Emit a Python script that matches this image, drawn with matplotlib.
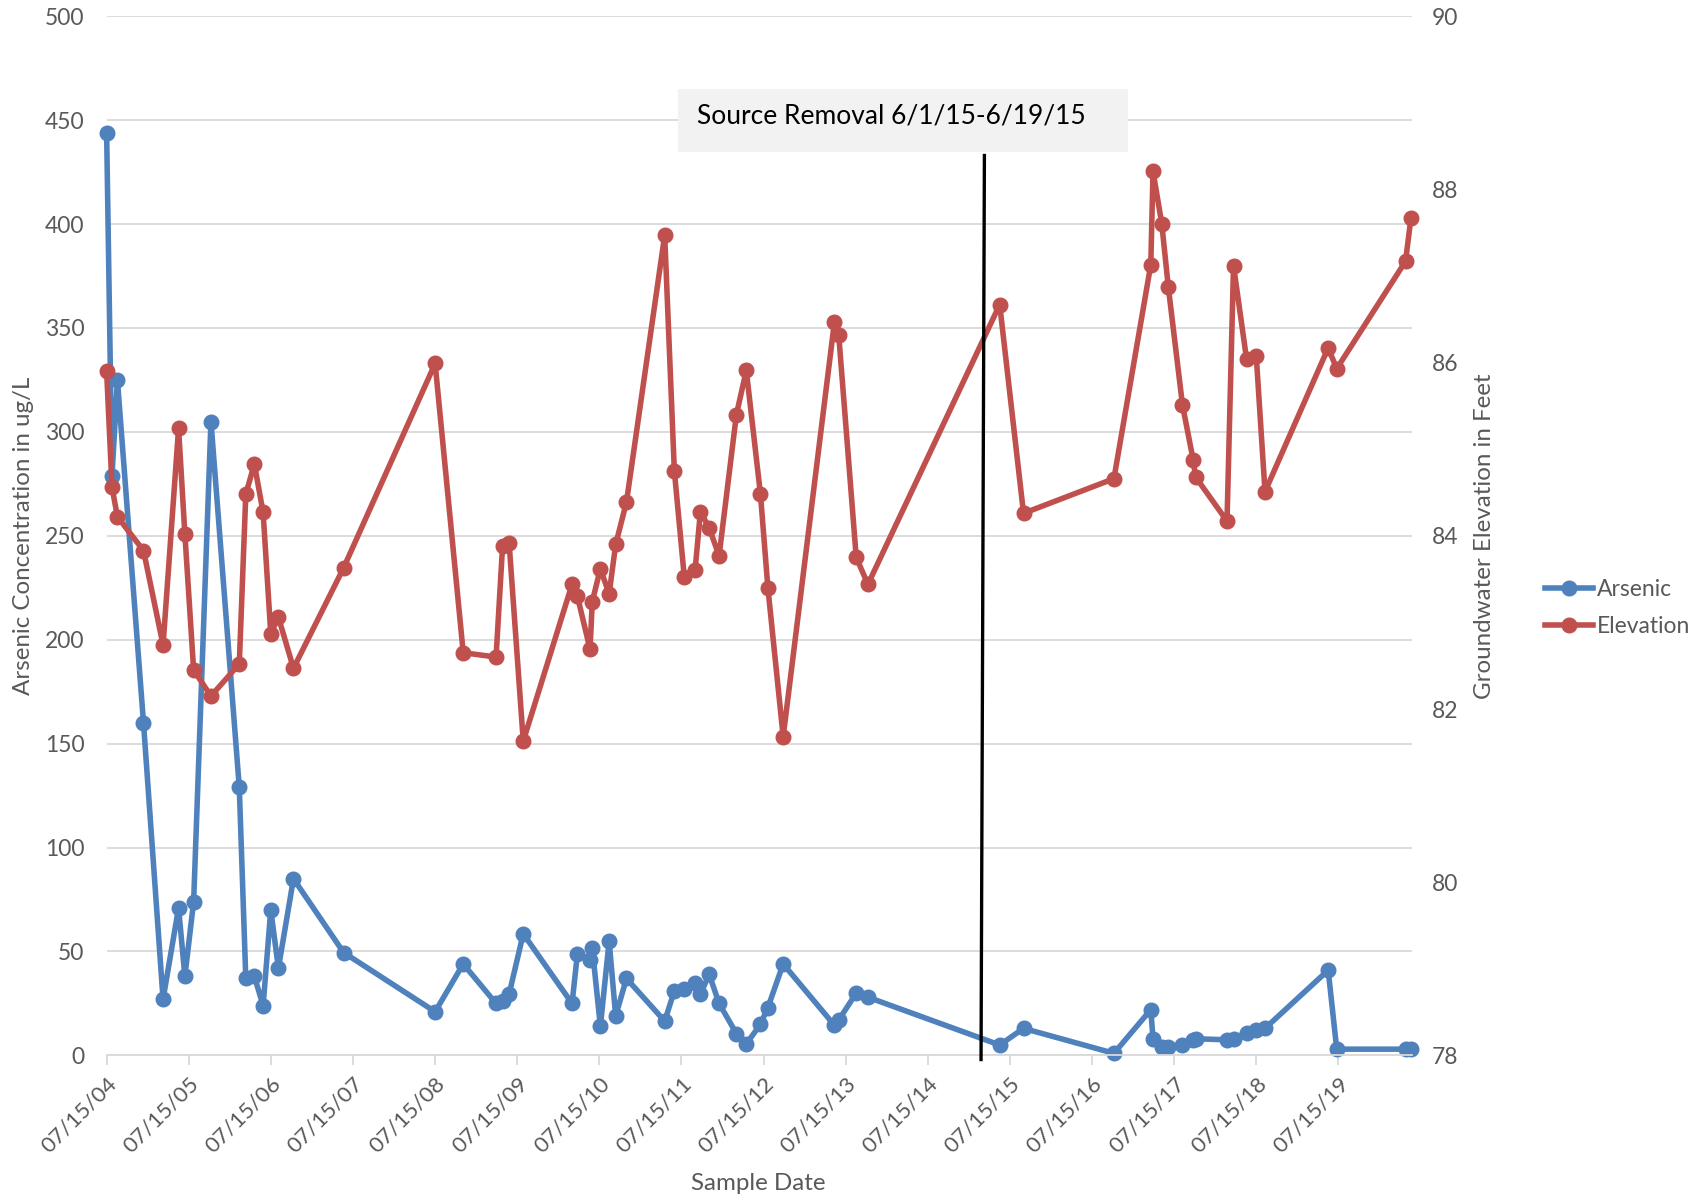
import numpy as np
import pandas as pd
import matplotlib
matplotlib.use('Agg')
import matplotlib.pyplot as plt
import matplotlib.dates as mdates
from matplotlib.patches import Rectangle
from datetime import datetime

plt.rcParams['font.family'] = ['Lato', 'DejaVu Sans']

# sample dates
dates = pd.to_datetime([
    '2004-07-15', '2004-08-08', '2004-09-01', '2004-12-26', '2005-03-23', '2005-05-31',
    '2005-06-28', '2005-08-06', '2005-10-22', '2006-02-25', '2006-03-26', '2006-05-03',
    '2006-06-11', '2006-07-15', '2006-08-18', '2006-10-24', '2007-06-04', '2008-07-15',
    '2008-11-17', '2009-04-12', '2009-05-11', '2009-06-09', '2009-08-11', '2010-03-16',
    '2010-04-09', '2010-06-04', '2010-06-14', '2010-07-20', '2010-08-28', '2010-09-26',
    '2010-11-13', '2011-05-02', '2011-06-14', '2011-07-28', '2011-09-14', '2011-10-08',
    '2011-11-16', '2011-12-30', '2012-03-16', '2012-04-29', '2012-07-01', '2012-08-03',
    '2012-10-10', '2013-05-26', '2013-06-14', '2013-08-31', '2013-10-22', '2015-05-31',
    '2015-09-14', '2016-10-20', '2017-04-02', '2017-04-12', '2017-05-21', '2017-06-19',
    '2017-08-21', '2017-10-08', '2017-10-18', '2018-03-07', '2018-04-05', '2018-06-02',
    '2018-07-15', '2018-08-23', '2019-05-31', '2019-07-08', '2020-05-09', '2020-06-02',
])

# arsenic concentration, ug/L
arsenic = [
    444, 279, 325, 160, 27, 71,
    38, 74, 305, 129, 37, 38,
    24, 70, 42, 85, 49.5, 21,
    44, 25, 26, 29.5, 58.5, 25,
    49, 46, 51.5, 14, 55, 19,
    37, 16.5, 31, 32, 35, 29.5,
    39, 25, 10.5, 5.5, 15, 23,
    44, 14.5, 17, 30, 28, 5,
    13, 1, 22, 8, 4, 4,
    5, 7.5, 8, 7.5, 8, 11,
    12, 13, 41, 3, 3, 3,
]

# groundwater elevation, feet
elevation = [
    85.90, 84.56, 84.22, 83.83, 82.74, 85.24,
    84.02, 82.45, 82.15, 82.52, 84.48, 84.83,
    84.27, 82.87, 83.06, 82.47, 83.63, 85.99,
    82.65, 82.60, 83.88, 83.92, 81.63, 83.44,
    83.30, 82.69, 83.24, 83.62, 83.33, 83.90,
    84.39, 87.47, 84.75, 83.53, 83.60, 84.28,
    84.09, 83.77, 85.40, 85.91, 84.48, 83.40,
    81.68, 86.47, 86.32, 83.75, 83.44, 86.67,
    84.26, 84.66, 87.13, 88.21, 87.60, 86.87,
    85.51, 84.87, 84.68, 84.17, 87.12, 86.04,
    86.08, 84.51, 86.17, 85.93, 87.17, 87.67,
]

tick_dates = [datetime(y, 7, 15) for y in range(2004, 2020)]
# hand-drawn marker line in the original: top end / bottom end
removal_line = pd.to_datetime(['2015-03-24', '2015-03-09'])

BLUE = '#4F81BD'
RED = '#C0504D'
GRID = '#D9D9D9'
TXT = '#595959'

fig = plt.figure(figsize=(17.06, 12.03), dpi=100)
ax = fig.add_axes([0.0625, 0.1227, 0.7652, 0.8638])
ax2 = ax.twinx()

l1, = ax.plot(dates, arsenic, color=BLUE, lw=4.0, marker='o', ms=10.5, clip_on=False, label='Arsenic')
l2, = ax2.plot(dates, elevation, color=RED, lw=4.0, marker='o', ms=10.5, clip_on=False, label='Elevation')

ax.set_ylim(0, 500)
ax.set_yticks(np.arange(0, 501, 50))
ax2.set_ylim(78, 90)
ax2.set_yticks(np.arange(78, 91, 2))
ax.set_xlim(dates[0], pd.Timestamp('2020-06-07'))
ax.set_xticks(tick_dates)
ax.xaxis.set_major_formatter(mdates.DateFormatter('%m/%d/%y'))

ax.grid(axis='y', color=GRID, lw=1.3)
ax.set_axisbelow(True)
for a in (ax, ax2):
    for s in a.spines.values():
        s.set_visible(False)
ax.spines['bottom'].set_visible(True)
ax.spines['bottom'].set_color(GRID)
ax.spines['bottom'].set_linewidth(1.3)

ax.tick_params(axis='y', length=0, pad=16, labelsize=16.5, labelcolor=TXT)
ax2.tick_params(axis='y', length=0, pad=14, labelsize=16.5, labelcolor=TXT)
ax.tick_params(axis='x', length=7, width=1.3, color=GRID, labelsize=16, labelcolor=TXT, pad=6)
plt.setp(ax.get_xticklabels(), rotation=45, ha='right', rotation_mode='anchor')

fig.text(0.014, 0.5542, 'Arsenic Concentration in ug/L', rotation=90, ha='center', va='center',
         fontsize=17.4, color=TXT)
fig.text(0.870, 0.5542, 'Groundwater Elevation in Feet', rotation=90, ha='center', va='center',
         fontsize=17.4, color=TXT)
fig.text(0.4445, 0.0160, 'Sample Date', ha='center', va='center', fontsize=17.4, color=TXT)

# source removal marker
ax2.plot(removal_line, [0.866, -0.004], transform=ax2.get_xaxis_transform(), color='black',
         lw=2.4, clip_on=False, zorder=10)
fig.patches.append(Rectangle((0.3973, 0.8734), 0.264, 0.0525, transform=fig.transFigure,
                             facecolor='#F2F2F2', edgecolor='none', zorder=5))
fig.text(0.4088, 0.9032, 'Source Removal 6/1/15-6/19/15', ha='left', va='center', fontsize=19,
         color='black', zorder=6)

fig.legend(handles=[l1, l2], loc='center left', bbox_to_anchor=(0.8935, 0.4946), frameon=False,
           fontsize=16.5, labelcolor=TXT, handlelength=2.1, handletextpad=0.15, labelspacing=0.7)

fig.savefig('out.png', dpi=100)
